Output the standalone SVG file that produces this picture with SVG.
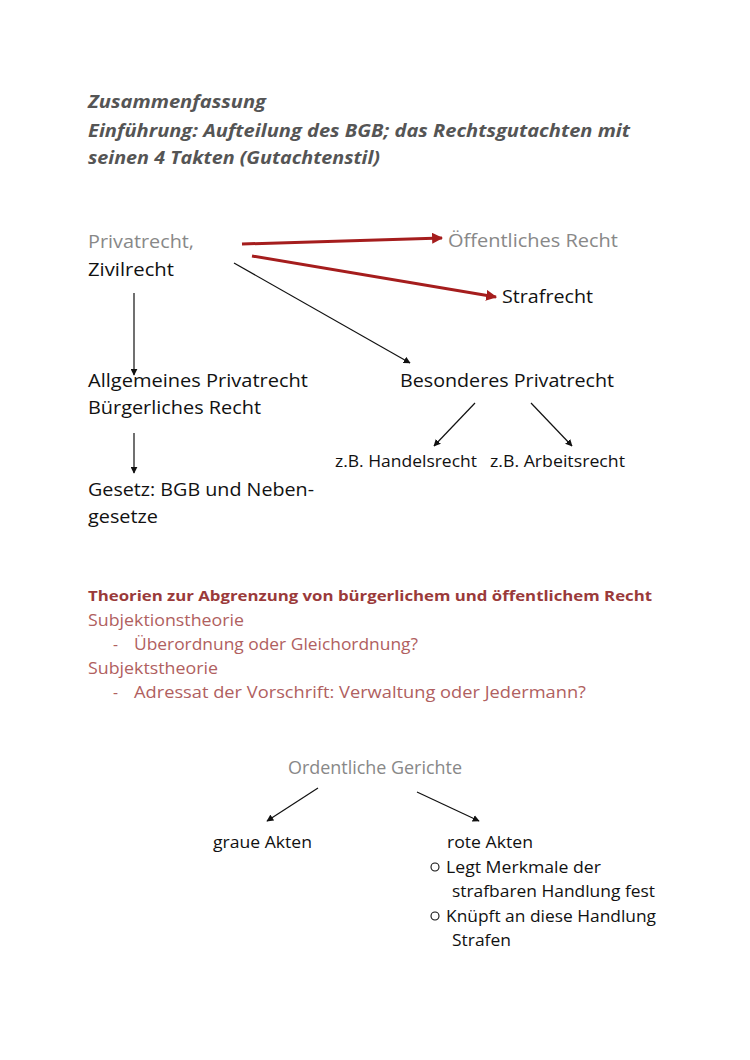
<svg xmlns="http://www.w3.org/2000/svg" width="750" height="1060" viewBox="0 0 750 1060">
<defs>
<marker id="ab" viewBox="0 0 10 10" refX="9" refY="5" markerWidth="7" markerHeight="7" orient="auto" markerUnits="userSpaceOnUse"><path d="M0,0 L10,5 L0,10 z" fill="#111"/></marker>
<marker id="ar" viewBox="0 0 10 10" refX="9" refY="5" markerWidth="11" markerHeight="11" orient="auto" markerUnits="userSpaceOnUse"><path d="M0,0 L10,5 L0,10 z" fill="#a51d1d"/></marker>
<style>
text{font-family:"Open Sans","Noto Sans",sans-serif;}
.t{font-size:18px;fill:#111;}
.s{font-size:15.5px;fill:#111;}
.g{font-size:18px;fill:#888;}
.h{font-size:17.5px;font-weight:bold;font-style:italic;fill:#555;}
.rh{font-size:15px;font-weight:bold;fill:#9a3a3a;}
.rt{font-size:15.5px;fill:#b06060;}
.bl{stroke:#111;stroke-width:1.2;fill:none;marker-end:url(#ab);}
.rl{stroke:#a51d1d;stroke-width:3;fill:none;marker-end:url(#ar);}
</style>
</defs>
<rect width="750" height="1060" fill="#fff"/>
<g id="title">
<text class="h" x="88" y="108" textLength="178" lengthAdjust="spacingAndGlyphs">Zusammenfassung</text>
<text class="h" x="88" y="137" textLength="542" lengthAdjust="spacingAndGlyphs">Einführung: Aufteilung des BGB; das Rechtsgutachten mit</text>
<text class="h" x="88" y="164" textLength="292" lengthAdjust="spacingAndGlyphs">seinen 4 Takten (Gutachtenstil)</text>
</g>
<g id="connectors">
<line class="rl" x1="242" y1="244" x2="442" y2="238"/>
<line class="rl" x1="252" y1="256" x2="496" y2="297"/>
<line class="bl" x1="234" y1="263" x2="410" y2="363"/>
<line class="bl" x1="134" y1="293" x2="134" y2="375"/>
<line class="bl" x1="475" y1="403" x2="434" y2="446"/>
<line class="bl" x1="531" y1="403" x2="572" y2="446"/>
<line class="bl" x1="134" y1="433" x2="134" y2="473"/>
<line class="bl" x1="318" y1="788" x2="267" y2="821"/>
<line class="bl" x1="417" y1="792" x2="479" y2="821"/>
</g>
<g id="privatrecht">
<text class="g" x="88" y="248" textLength="106" lengthAdjust="spacingAndGlyphs">Privatrecht,</text>
<text class="t" x="88" y="276" textLength="86" lengthAdjust="spacingAndGlyphs">Zivilrecht</text>
</g>
<g id="oeffentliches"><text class="g" x="448" y="247" textLength="170" lengthAdjust="spacingAndGlyphs">Öffentliches Recht</text></g>
<g id="strafrecht"><text class="t" x="502" y="303" textLength="91" lengthAdjust="spacingAndGlyphs">Strafrecht</text></g>
<g id="allgemeines">
<text class="t" x="88" y="387" textLength="220" lengthAdjust="spacingAndGlyphs">Allgemeines Privatrecht</text>
<text class="t" x="88" y="414" textLength="173" lengthAdjust="spacingAndGlyphs">Bürgerliches Recht</text>
</g>
<g id="besonderes"><text class="t" x="400" y="387" textLength="214" lengthAdjust="spacingAndGlyphs">Besonderes Privatrecht</text></g>
<g id="handelsrecht"><text class="s" x="335" y="467" textLength="142" lengthAdjust="spacingAndGlyphs">z.B. Handelsrecht</text></g>
<g id="arbeitsrecht"><text class="s" x="490" y="467" textLength="135" lengthAdjust="spacingAndGlyphs">z.B. Arbeitsrecht</text></g>
<g id="gesetz">
<text class="t" x="88" y="496" textLength="226" lengthAdjust="spacingAndGlyphs">Gesetz: BGB und Neben-</text>
<text class="t" x="88" y="523" textLength="70" lengthAdjust="spacingAndGlyphs">gesetze</text>
</g>
<g id="theorien">
<text class="rh" x="88" y="601" textLength="564" lengthAdjust="spacingAndGlyphs">Theorien zur Abgrenzung von bürgerlichem und öffentlichem Recht</text>
<text class="rt" x="88" y="626" textLength="156" lengthAdjust="spacingAndGlyphs">Subjektionstheorie</text>
<text class="rt" x="113" y="650">-</text>
<text class="rt" x="134" y="650" textLength="284" lengthAdjust="spacingAndGlyphs">Überordnung oder Gleichordnung?</text>
<text class="rt" x="88" y="674" textLength="130" lengthAdjust="spacingAndGlyphs">Subjektstheorie</text>
<text class="rt" x="113" y="698">-</text>
<text class="rt" x="134" y="698" textLength="452" lengthAdjust="spacingAndGlyphs">Adressat der Vorschrift: Verwaltung oder Jedermann?</text>
</g>
<g id="gerichte"><text class="g" x="288" y="774" font-size="16" textLength="174" lengthAdjust="spacingAndGlyphs">Ordentliche Gerichte</text></g>
<g id="graue"><text class="s" x="213" y="848" font-size="17" textLength="99" lengthAdjust="spacingAndGlyphs">graue Akten</text></g>
<g id="rote">
<text class="s" x="447" y="848" font-size="17" textLength="86" lengthAdjust="spacingAndGlyphs">rote Akten</text>
<circle cx="435" cy="867" r="4" fill="none" stroke="#111" stroke-width="1.1"/>
<text class="s" x="446" y="873" font-size="17" textLength="155" lengthAdjust="spacingAndGlyphs">Legt Merkmale der</text>
<text class="s" x="452" y="897" font-size="17" textLength="203" lengthAdjust="spacingAndGlyphs">strafbaren Handlung fest</text>
<circle cx="435" cy="916" r="4" fill="none" stroke="#111" stroke-width="1.1"/>
<text class="s" x="446" y="922" font-size="17" textLength="210" lengthAdjust="spacingAndGlyphs">Knüpft an diese Handlung</text>
<text class="s" x="452" y="946" font-size="17" textLength="59" lengthAdjust="spacingAndGlyphs">Strafen</text>
</g>
</svg>
